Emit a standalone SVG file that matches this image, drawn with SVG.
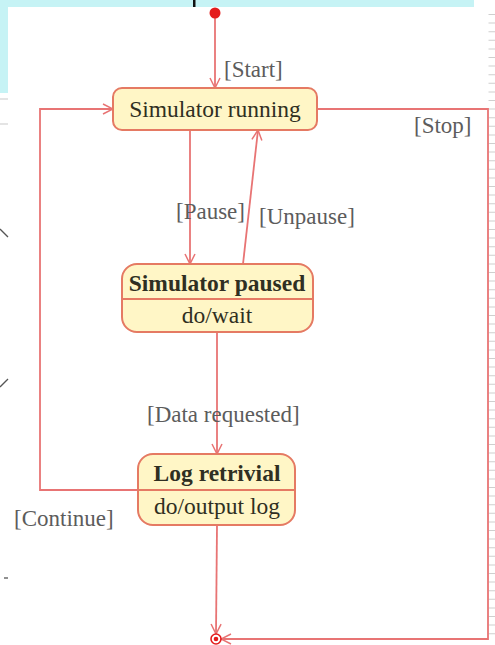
<svg xmlns="http://www.w3.org/2000/svg" width="495" height="645" viewBox="0 0 495 645">
<defs>
<style>
.bg{fill:#c6f3f5}
.edge{fill:none;stroke:#e87474;stroke-width:1.8}
.box{fill:#fff6c6;stroke:#e57a63;stroke-width:2}
.div{stroke:#e57a63;stroke-width:1.8}
.title{font-family:"Liberation Serif","Times New Roman",serif;font-size:23.5px;fill:#2f2f22;text-anchor:middle}
.bold{font-weight:bold}
.lbl{font-family:"Liberation Serif","Times New Roman",serif;font-size:23px;fill:#5c5c5c}
.artifact{stroke:#c9c9c9;stroke-width:1}
</style>
<marker id="arr" viewBox="0 0 12 12" refX="11" refY="6" markerWidth="12" markerHeight="12" markerUnits="userSpaceOnUse" orient="auto">
<path d="M1,1 L11,6 L1,11" fill="none" stroke="#e87474" stroke-width="1.5"/>
</marker>
</defs>
<rect width="495" height="645" fill="#ffffff"/>
<g id="background">
<rect class="bg" x="0" y="0" width="474" height="7"/>
<rect class="bg" x="0" y="0" width="8" height="93"/>
<rect x="193" y="0" width="2.5" height="7" fill="#111"/>
<line x1="0" y1="99" x2="8" y2="99" class="artifact"/>
<line x1="0" y1="124" x2="8" y2="124" class="artifact"/>
<line x1="0" y1="229" x2="8" y2="237" stroke="#555" stroke-width="1.3"/>
<line x1="0" y1="387" x2="8" y2="379" stroke="#555" stroke-width="1.3"/>
<line x1="4" y1="578" x2="8" y2="578" stroke="#555" stroke-width="1.3"/>
<line x1="492" y1="14" x2="492" y2="640" stroke="#cfcfcf" stroke-width="7" stroke-dasharray="1 7.6"/>
</g>
<g id="connectors">
<line class="edge" x1="215" y1="17" x2="215" y2="88" marker-end="url(#arr)"/>
<line class="edge" x1="190" y1="130" x2="190" y2="264" marker-end="url(#arr)"/>
<line class="edge" x1="243" y1="264" x2="258" y2="130" marker-end="url(#arr)"/>
<line class="edge" x1="217" y1="332" x2="217" y2="454" marker-end="url(#arr)"/>
<polyline class="edge" points="138,490 40,490 40,109 113,109" marker-end="url(#arr)"/>
<polyline class="edge" points="317,109 488,109 488,639 221,639" marker-end="url(#arr)"/>
<line class="edge" x1="217" y1="525" x2="216" y2="634" marker-end="url(#arr)"/>
<text class="lbl" x="224" y="77">[Start]</text>
<text class="lbl" x="414" y="133">[Stop]</text>
<text class="lbl" x="176" y="219">[Pause]</text>
<text class="lbl" x="259" y="224">[Unpause]</text>
<text class="lbl" x="147" y="422">[Data requested]</text>
<text class="lbl" x="14" y="526">[Continue]</text>
</g>
<g id="start">
<circle cx="215" cy="13" r="5.5" fill="#e41c1c"/>
</g>
<g id="simulator-running">
<rect class="box" x="113" y="88" width="204" height="42" rx="9"/>
<text class="title" x="215" y="117">Simulator running</text>
</g>
<g id="simulator-paused">
<rect class="box" x="122" y="264" width="191" height="68" rx="15"/>
<line class="div" x1="122" y1="299" x2="313" y2="299"/>
<text class="title bold" x="217" y="291">Simulator paused</text>
<text class="title" x="217" y="323">do/wait</text>
</g>
<g id="log-retrivial">
<rect class="box" x="138" y="454" width="157" height="71" rx="15"/>
<line class="div" x1="138" y1="490" x2="295" y2="490"/>
<text class="title bold" x="217" y="481">Log retrivial</text>
<text class="title" x="217" y="514">do/output log</text>
</g>
<g id="end">
<circle cx="216" cy="639" r="5" fill="#ffffff" stroke="#e41c1c" stroke-width="1.6"/>
<circle cx="216" cy="639" r="2.3" fill="#e41c1c"/>
</g>
</svg>
